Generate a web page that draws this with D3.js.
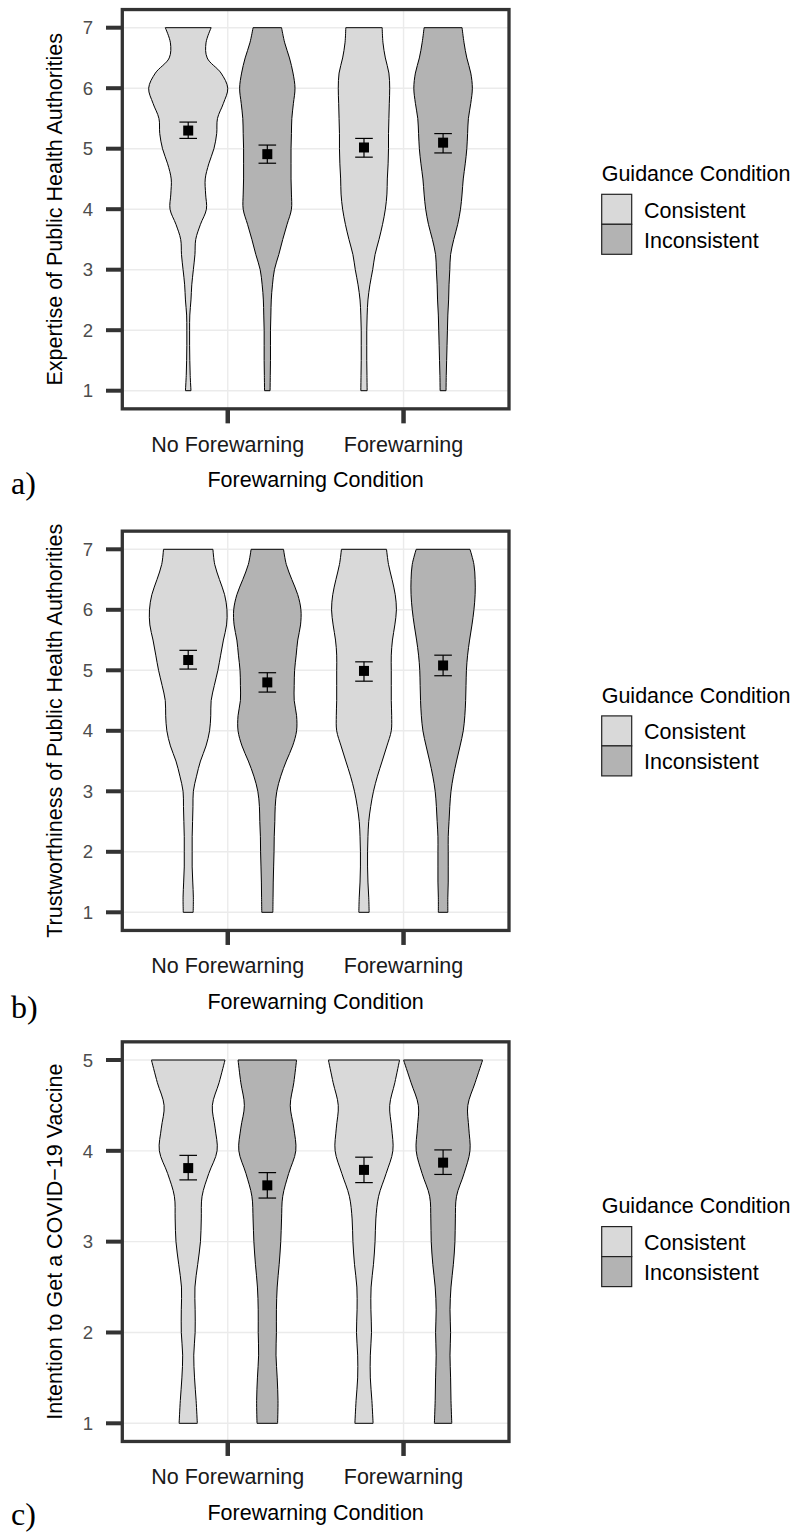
<!DOCTYPE html>
<html>
<head>
<meta charset="utf-8">
<script src="https://cdn.jsdelivr.net/npm/d3@7"></script>
<style>
  body{margin:0;background:#fff;}
  svg{display:block;}
  text{font-family:"Liberation Sans", Arial, sans-serif;}
  text.tag{font-family:"Liberation Serif", "Times New Roman", serif;}
</style>
</head>
<body>
<script>
// categories
var groups=["No Forewarning","Forewarning"];
var guidance=["Consistent","Inconsistent"];
var fills=["#D9D9D9","#B3B3B3"];

// y levels at which violin widths were read
var levels7=[1,1.25,1.5,1.75,2,2.25,2.5,2.75,3,3.25,3.5,3.75,4,4.25,4.5,4.75,5,5.25,5.5,5.75,6,6.25,6.5,6.75,7];
var levels5=[1,1.25,1.5,1.75,2,2.25,2.5,2.75,3,3.25,3.5,3.75,4,4.25,4.5,4.75,5];
var ticks7=[1,2,3,4,5,6,7];
var ticks5=[1,2,3,4,5];

// relative violin widths, order: NF-Consistent, NF-Inconsistent, F-Consistent, F-Inconsistent
var expertiseWidths=[
  [0.07,0.05,0.04,0.035,0.035,0.04,0.07,0.09,0.13,0.17,0.19,0.31,0.46,0.44,0.43,0.52,0.65,0.72,0.74,0.89,1.0,0.83,0.48,0.45,0.58],
  [0.07,0.075,0.08,0.08,0.08,0.09,0.10,0.13,0.18,0.29,0.39,0.50,0.61,0.61,0.60,0.60,0.60,0.61,0.62,0.66,0.70,0.65,0.56,0.44,0.36],
  [0.08,0.075,0.07,0.07,0.07,0.08,0.10,0.15,0.22,0.28,0.38,0.47,0.54,0.58,0.59,0.61,0.62,0.62,0.63,0.64,0.65,0.63,0.54,0.48,0.46],
  [0.075,0.08,0.09,0.10,0.11,0.12,0.14,0.15,0.17,0.19,0.27,0.37,0.44,0.48,0.51,0.56,0.60,0.62,0.64,0.70,0.74,0.70,0.60,0.53,0.48]
];
var expertiseMean=[5.30,4.91,5.02,5.10];
var expertiseLow=[5.17,4.76,4.86,4.93];
var expertiseHigh=[5.44,5.06,5.17,5.25];

var trustWidths=[
  [0.125,0.13,0.115,0.10,0.10,0.10,0.11,0.12,0.13,0.21,0.31,0.45,0.54,0.57,0.58,0.66,0.75,0.82,0.89,0.97,0.98,0.92,0.79,0.67,0.625],
  [0.14,0.145,0.15,0.16,0.17,0.175,0.19,0.20,0.24,0.34,0.48,0.64,0.74,0.74,0.68,0.68,0.69,0.73,0.77,0.84,0.85,0.77,0.62,0.48,0.41],
  [0.13,0.12,0.10,0.09,0.09,0.10,0.12,0.17,0.24,0.34,0.46,0.58,0.69,0.70,0.69,0.69,0.69,0.69,0.72,0.78,0.82,0.79,0.71,0.62,0.57],
  [0.12,0.12,0.13,0.13,0.13,0.13,0.15,0.17,0.20,0.26,0.34,0.43,0.51,0.55,0.57,0.58,0.59,0.62,0.67,0.73,0.78,0.81,0.81,0.78,0.68]
];
var trustMean=[5.17,4.80,4.99,5.08];
var trustLow=[5.02,4.64,4.82,4.91];
var trustHigh=[5.33,4.96,5.14,5.25];

var vaccineWidths=[
  [0.23,0.20,0.16,0.14,0.175,0.175,0.17,0.24,0.31,0.33,0.35,0.52,0.73,0.68,0.61,0.78,0.93],
  [0.26,0.27,0.25,0.22,0.23,0.23,0.25,0.30,0.34,0.36,0.39,0.54,0.72,0.67,0.58,0.67,0.74],
  [0.23,0.20,0.16,0.16,0.19,0.175,0.18,0.24,0.28,0.30,0.37,0.56,0.73,0.70,0.65,0.78,0.90],
  [0.22,0.20,0.19,0.175,0.19,0.175,0.20,0.26,0.30,0.31,0.34,0.53,0.68,0.65,0.625,0.81,1.0]
];
var vaccineMean=[3.81,3.62,3.79,3.87];
var vaccineLow=[3.68,3.48,3.65,3.74];
var vaccineHigh=[3.95,3.76,3.93,4.01];

var panels=[
  {title:"Expertise of Public Health Authorities", tag:"a)", levels:levels7, ticks:ticks7,
   widths:expertiseWidths, mean:expertiseMean, low:expertiseLow, high:expertiseHigh,
   top:27.7, bottom:390.7, tagY:494.3, legendY:181},
  {title:"Trustworthiness of Public Health Authorities", tag:"b)", levels:levels7, ticks:ticks7,
   widths:trustWidths, mean:trustMean, low:trustLow, high:trustHigh,
   top:549.3, bottom:912.3, tagY:1018.3, legendY:702.6},
  {title:"Intention to Get a COVID\u221219 Vaccine", tag:"c)", levels:levels5, ticks:ticks5,
   widths:vaccineWidths, mean:vaccineMean, low:vaccineLow, high:vaccineHigh,
   top:1060, bottom:1423.3, tagY:1525, legendY:1213.3}
];

var svg=d3.select("body").append("svg")
  .attr("width",796)
  .attr("height",1533);

var xScale=d3.scaleLinear().domain([0.4,2.6]).range([122.3,509]);
var dodge=0.225;

function drawPanel(p){
  var lo=p.ticks[0], hi=p.ticks[p.ticks.length-1];
  var pad=(hi-lo)*0.05;
  var yScale=d3.scaleLinear().domain([lo,hi]).range([p.bottom,p.top]);
  var x0=xScale(0.4), x1=xScale(2.6);
  var y0=yScale(hi+pad), y1=yScale(lo-pad);
  var g=svg.append("g");

  //grid
  g.selectAll(".hgrid").data(p.ticks).enter().append("line")
    .attr("x1",x0).attr("x2",x1)
    .attr("y1",function(d){return yScale(d)}).attr("y2",function(d){return yScale(d)})
    .attr("stroke","#EBEBEB").attr("stroke-width",1.4);
  g.selectAll(".vgrid").data([1,2]).enter().append("line")
    .attr("x1",function(d){return xScale(d)}).attr("x2",function(d){return xScale(d)})
    .attr("y1",y0).attr("y2",y1)
    .attr("stroke","#EBEBEB").attr("stroke-width",1.4);

  // violins
  var cells=[];
  for(var i=0;i<4;i++){
    var grp=Math.floor(i/2), gd=i%2;
    cells.push({pos:grp+1+(gd==0?-dodge:dodge), fill:fills[gd],
      pts:p.levels.map(function(v,k){return {v:v,w:p.widths[i][k]}}),
      mean:p.mean[i], low:p.low[i], high:p.high[i]});
  }
  cells.forEach(function(c){
    var area=d3.area()
      .y(function(d){return yScale(d.v)})
      .x0(function(d){return xScale(c.pos-dodge*d.w)})
      .x1(function(d){return xScale(c.pos+dodge*d.w)})
      .curve(d3.curveCatmullRom.alpha(0.5));
    g.append("path").datum(c.pts)
      .attr("d",area)
      .attr("fill",c.fill)
      .attr("stroke","#000")
      .attr("stroke-width",1);
  });

  // error bars + means
  cells.forEach(function(c){
    var cx=xScale(c.pos);
    g.append("line").attr("x1",cx).attr("x2",cx)
      .attr("y1",yScale(c.low)).attr("y2",yScale(c.high))
      .attr("stroke","#000").attr("stroke-width",1.2);
    [c.low,c.high].forEach(function(v){
      g.append("line").attr("x1",cx-8.8).attr("x2",cx+8.8)
        .attr("y1",yScale(v)).attr("y2",yScale(v))
        .attr("stroke","#000").attr("stroke-width",1.2);
    });
    g.append("rect").attr("x",cx-5).attr("y",yScale(c.mean)-5)
      .attr("width",10).attr("height",10).attr("fill","#000");
  });

  // border
  g.append("rect").attr("x",x0).attr("y",y0)
    .attr("width",x1-x0).attr("height",y1-y0)
    .attr("fill","none").attr("stroke","#333").attr("stroke-width",3.3);

  // y axis
  g.selectAll(".ytick").data(p.ticks).enter().append("line")
    .attr("x1",106).attr("x2",x0)
    .attr("y1",function(d){return yScale(d)}).attr("y2",function(d){return yScale(d)})
    .attr("stroke","#333").attr("stroke-width",4);
  g.selectAll(".ylab").data(p.ticks).enter().append("text")
    .attr("x",93).attr("y",function(d){return yScale(d)})
    .attr("dy","0.36em").attr("text-anchor","end")
    .attr("font-size",18.6).attr("fill","#4D4D4D")
    .text(function(d){return d});

  // x axis
  g.selectAll(".xtick").data([1,2]).enter().append("line")
    .attr("x1",function(d){return xScale(d)}).attr("x2",function(d){return xScale(d)})
    .attr("y1",y1).attr("y2",y1+14.5)
    .attr("stroke","#333").attr("stroke-width",4.5);
  g.selectAll(".xlab").data(groups).enter().append("text")
    .attr("x",function(d,i){return xScale(i+1)}).attr("y",y1+43)
    .attr("text-anchor","middle").attr("font-size",21.5).attr("fill","#1A1A1A")
    .text(function(d){return d});
  g.append("text").attr("x",(x0+x1)/2).attr("y",y1+78.5)
    .attr("text-anchor","middle").attr("font-size",21.5).attr("fill","#000")
    .text("Forewarning Condition");

  g.append("text")
    .attr("transform","translate(61.5,"+((p.top+p.bottom)/2)+") rotate(-90)")
    .attr("text-anchor","middle").attr("font-size",21.5).attr("fill","#000")
    .text(p.title);

  // legend
  g.append("text").attr("x",601.7).attr("y",p.legendY)
    .attr("font-size",21.5).attr("fill","#000").text("Guidance Condition");
  guidance.forEach(function(name,i){
    var ky=p.legendY+13.3+i*30;
    g.append("rect").attr("x",601.7).attr("y",ky).attr("width",30).attr("height",30)
      .attr("fill",fills[i]).attr("stroke","#222").attr("stroke-width",1.2);
    g.append("text").attr("x",644).attr("y",ky+23.4)
      .attr("font-size",21.5).attr("fill","#000").text(name);
  });

  // panel tag
  g.append("text").attr("class","tag").attr("x",11).attr("y",p.tagY)
    .attr("font-size",32).attr("fill","#000").text(p.tag);
}

panels.forEach(drawPanel);
</script>
</body>
</html>
